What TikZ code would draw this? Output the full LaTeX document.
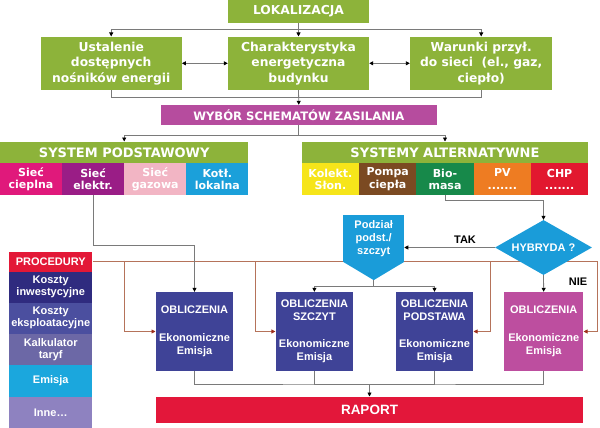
\documentclass[tikz,border=0pt]{standalone}
\usepackage{fontspec}
\setmainfont{Liberation Sans}
\newfontfamily\verdana{DejaVu Sans}
\usetikzlibrary{shapes.geometric}
\usetikzlibrary{arrows.meta}

\definecolor{lokgreen}{HTML}{8DB33A}
\definecolor{wybpink}{HTML}{B64C9E}
\definecolor{spmagenta}{HTML}{E0197B}
\definecolor{sppurple}{HTML}{9A1D86}
\definecolor{sppink}{HTML}{F2B5C4}
\definecolor{spblue}{HTML}{1BA0DA}
\definecolor{sayellow}{HTML}{F6E51A}
\definecolor{sabrown}{HTML}{7B4A22}
\definecolor{sagreen}{HTML}{17894A}
\definecolor{saorange}{HTML}{EE7C22}
\definecolor{sared}{HTML}{E2182F}
\definecolor{decblue}{HTML}{1A9CD9}
\definecolor{oblblue}{HTML}{3F4397}
\definecolor{oblpink}{HTML}{BD4E9F}
\definecolor{rapred}{HTML}{E3173A}
\definecolor{procred}{HTML}{E31837}
\definecolor{procdark}{HTML}{2F2B7F}
\definecolor{procmid}{HTML}{4B4F9F}
\definecolor{procgrey}{HTML}{6C68A6}
\definecolor{proccyan}{HTML}{1BA7DD}
\definecolor{proclav}{HTML}{8E82C0}
\definecolor{linegrey}{HTML}{7A7A7A}
\definecolor{procline}{HTML}{B5735A}
\definecolor{proctip}{HTML}{9E2F1C}

\begin{document}
\begin{tikzpicture}[
      x=1pt, y=-1pt,
      green_box/.style={fill=lokgreen, text=white, align=center, inner sep=0pt, font=\verdana\bfseries\fontsize{12.3}{15.5}\selectfont},
      head_box/.style={fill=lokgreen, text=white, inner sep=0pt, minimum height=21.6pt, font=\verdana\bfseries\fontsize{13}{15}\selectfont},
      cell_box/.style={fill=#1, text=white, align=center, inner sep=0pt, minimum height=31.7pt, font=\verdana\bfseries\fontsize{11}{12.5}\selectfont},
      proc_box/.style={fill=#1, text=white, align=center, inner sep=0pt, minimum width=83.3pt, font=\bfseries\fontsize{11}{12}\selectfont},
      obl_box/.style={fill=#1, text=white, align=center, inner sep=0pt, minimum width=77.6pt, minimum height=79pt, font=\bfseries\fontsize{11}{13}\selectfont},
      grey_line/.style={draw=linegrey, line width=0.8pt},
      grey_arrow/.style={grey_line, -{Triangle[length=4pt,width=4pt,black]}},
      grey_both/.style={grey_line, {Triangle[length=4pt,width=4pt,black]}-{Triangle[length=4pt,width=4pt,black]}},
      proc_line/.style={draw=procline, line width=0.8pt},
      proc_arrow/.style={proc_line, -{Triangle[length=4pt,width=4pt,proctip]}}
    ]

    \useasboundingbox (0,0) rectangle (600,428);

    % ------------------------------------------------------------------ %
    % Top part: location and building
    % ------------------------------------------------------------------ %

    \node[green_box, minimum width=141pt, minimum height=22.7pt] (lok) at (298.5,11.35) {LOKALIZACJA};

    \node[green_box, minimum width=141pt, minimum height=53.3pt] (ust) at (111.2,63.3) {Ustalenie\\dostępnych\\nośników energii};
    \node[green_box, minimum width=141pt, minimum height=53.3pt] (char) at (298.5,63.3) {Charakterystyka\\energetyczna\\budynku};
    \node[green_box, minimum width=142.3pt, minimum height=53.3pt] (war) at (481.2,63.3) {Warunki przył.\\do sieci~ (el., gaz,\\ciepło)};

    \node[fill=wybpink, text=white, inner sep=0pt, minimum width=275.7pt, minimum height=20pt, font=\verdana\bfseries\fontsize{11.6}{14}\selectfont] (wyb) at (298.8,115) {WYBÓR SCHEMATÓW ZASILANIA};

    \coordinate (top_bus) at (298.5,29.5);
    \coordinate (bot_bus) at (298.5,97.7);
    \coordinate (sys_bus) at (298.8,135);

    \draw[grey_arrow] (lok.south) -- (char.north);
    \draw[grey_arrow] (top_bus) -| (ust.north);
    \draw[grey_arrow] (top_bus) -| (war.north);
    \draw[grey_both] (ust.east) -- (char.west);
    \draw[grey_both] (char.east) -- (war.west);
    \draw[grey_line] (ust.south) |- (bot_bus) -| (war.south);
    \draw[grey_arrow] (char.south) -- (wyb.north);

    % ------------------------------------------------------------------ %
    % Supply systems
    % ------------------------------------------------------------------ %

    \node[head_box, minimum width=248.3pt] (sp) at (124.2,152.5) {SYSTEM PODSTAWOWY};
    \node[cell_box=spmagenta, minimum width=62.1pt] (sp1) at (31.0,179.2) {Sieć\\cieplna};
    \node[cell_box=sppurple,  minimum width=62.1pt] (sp2) at (93.1,179.2) {Sieć\\elektr.};
    \node[cell_box=sppink,    minimum width=62.1pt] (sp3) at (155.2,179.2) {Sieć\\gazowa};
    \node[cell_box=spblue,    minimum width=62.1pt] (sp4) at (217.3,179.2) {Kotł.\\lokalna};

    \node[head_box, minimum width=286.6pt] (sa) at (445,152.5) {SYSTEMY ALTERNATYWNE};
    \node[cell_box=sayellow, minimum width=57.3pt] (sa1) at (330.4,179.2) {Kolekt.\\Słon.};
    \node[cell_box=sabrown,  minimum width=57.3pt] (sa2) at (387.7,179.2) {Pompa\\ciepła};
    \node[cell_box=sagreen,  minimum width=57.3pt] (sa3) at (445.0,179.2) {Bio-\\masa};
    \node[cell_box=saorange, minimum width=57.3pt] (sa4) at (502.3,179.2) {PV\\.......};
    \node[cell_box=sared,    minimum width=57.3pt] (sa5) at (559.6,179.2) {CHP\\.......};

    \draw[grey_line] (wyb.south) -- (sys_bus);
    \draw[grey_arrow] (sys_bus) -| (sp.north);
    \draw[grey_arrow] (sys_bus) -| (sa.north);

    % ------------------------------------------------------------------ %
    % Procedures column
    % ------------------------------------------------------------------ %

    \node[proc_box=procred,  minimum height=20pt]   (proc) at (50.7,261.7) {PROCEDURY};
    \node[proc_box=procdark, minimum height=31pt]   (kinw) at (50.7,287.2) {Koszty\\inwestycyjne};
    \node[proc_box=procmid,  minimum height=31.3pt] (keks) at (50.7,318.3) {Koszty\\eksploatacyjne};
    \node[proc_box=procgrey, minimum height=31pt]   (kalk) at (50.7,349.5) {Kalkulator\\taryf};
    \node[proc_box=proccyan, minimum height=31.7pt] (emis) at (50.7,380.8) {Emisja};
    \node[proc_box=proclav,  minimum height=31.3pt] (inne) at (50.7,412.3) {Inne…};

    % ------------------------------------------------------------------ %
    % Calculations and report
    % ------------------------------------------------------------------ %

    \node[obl_box=oblblue] (ob1) at (194.5,331.5) {OBLICZENIA\\[14.5pt]Ekonomiczne\\Emisja};
    \node[obl_box=oblblue] (ob2) at (314.4,331.5) {OBLICZENIA\\SZCZYT\\[13.5pt]Ekonomiczne\\Emisja};
    \node[obl_box=oblblue] (ob3) at (434.5,331.5) {OBLICZENIA\\PODSTAWA\\[13.5pt]Ekonomiczne\\Emisja};
    \node[obl_box=oblpink, minimum width=79.3pt] (ob4) at (543.7,331.5) {OBLICZENIA\\[14.5pt]Ekonomiczne\\Emisja};

    \node[fill=rapred, text=white, inner sep=0pt, minimum width=427.6pt, minimum height=26pt, font=\bfseries\fontsize{13.5}{15}\selectfont] (rap) at (369.5,409.7) {RAPORT};

    % procedure lines (behind the decision shapes)
    \coordinate (drop1) at (124.3,261.7);
    \coordinate (drop2) at (255,261.7);
    \coordinate (drop3) at (490,261.7);
    \coordinate (drop4) at (597.7,261.7);

    \draw[proc_line] (proc.east) -- (drop4);
    \draw[proc_arrow] (drop1) |- (ob1.west);
    \draw[proc_arrow] (drop2) |- (ob2.west);
    \draw[proc_arrow] (drop3) |- (ob3.east);
    \draw[proc_arrow] (drop4) |- (ob4.east);

    % ------------------------------------------------------------------ %
    % Decision
    % ------------------------------------------------------------------ %

    \node[fill=decblue, text=white, align=center, inner sep=0pt, minimum width=60.7pt, minimum height=46.7pt, font=\bfseries\fontsize{11}{13}\selectfont] (pod) at (373.7,238.3) {Podział\\podst./\\szczyt};
    \fill[decblue] (pod.south west) -- (pod.south east) -- ([yshift=-18.3pt]pod.south) -- cycle;
    \coordinate (pod_tip) at ([yshift=-18.3pt]pod.south);

    \node[diamond, fill=decblue, text=white, inner sep=0pt, aspect=1.76, minimum width=97pt, minimum height=55pt, font=\bfseries\fontsize{11}{13}\selectfont] (hyb) at (543.5,247.5) {HYBRYDA ?};

    \node[font=\bfseries\fontsize{11}{13}\selectfont] (tak) at (465,240) {TAK};
    \node[font=\bfseries\fontsize{11}{13}\selectfont] (nie) at (578,281.7) {NIE};

    \draw[grey_arrow] (sa3.south) -- ++(0,5) -| (hyb.north);
    \draw[grey_arrow] (hyb.west) -- (pod.east |- hyb.west);
    \draw[grey_arrow] (hyb.south) -- (ob4.north);
    \draw[grey_line] (pod_tip) -- ++(0,6.7) coordinate (split);
    \draw[grey_arrow] (split) -| (ob2.north);
    \draw[grey_arrow] (split) -| (ob3.north);

    \draw[grey_arrow] (sp2.south) -- ++(0,50) -| (ob1.north);

    % ------------------------------------------------------------------ %
    % To report
    % ------------------------------------------------------------------ %

    \coordinate (rap_bus) at (369.5,384);
    \draw[grey_line] (ob1.south) |- (rap_bus) -| (ob4.south);
    \draw[grey_line] (ob2.south) |- (rap_bus);
    \draw[grey_line] (ob3.south) |- (rap_bus);
    \draw[grey_arrow] (rap_bus) -- (rap.north);

    \end{tikzpicture}
\end{document}
